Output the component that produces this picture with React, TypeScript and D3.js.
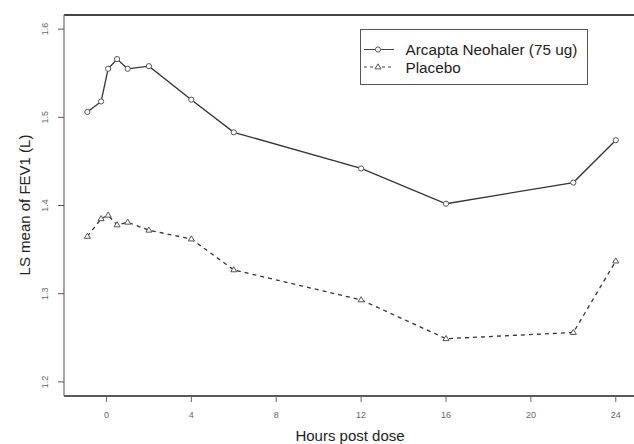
import React from "react";
import * as d3 from "d3";

const hours = [-0.9, -0.25, 0.08, 0.5, 1, 2, 4, 6, 12, 16, 22, 24];
const arcapta = [1.506, 1.518, 1.555, 1.566, 1.555, 1.558, 1.520, 1.483, 1.442, 1.402, 1.426, 1.474];
const placebo = [1.365, 1.385, 1.389, 1.378, 1.381, 1.372, 1.362, 1.327, 1.293, 1.249, 1.256, 1.337];
const xTicks = [0, 4, 8, 12, 16, 20, 24];
const yTicks = [1.2, 1.3, 1.4, 1.5, 1.6];
const seriesNames = ["Arcapta Neohaler (75 ug)", "Placebo"];

const W = 634, H = 444;
const L = 64, R = 637, T = 15, B = 396;
const FONT = "'Liberation Sans', Arial, Helvetica, sans-serif";

export default function App() {
  const x = d3.scaleLinear().domain([-2, 25]).range([L, R]);
  const y = d3.scaleLinear().domain([1.184, 1.616]).range([B, T]);
  const line = d3.line<[number, number]>().x(d => x(d[0])).y(d => y(d[1]));
  const a: [number, number][] = hours.map((h, i) => [h, arcapta[i]]);
  const p: [number, number][] = hours.map((h, i) => [h, placebo[i]]);
  const tri = (cx: number, cy: number, s = 3.2) =>
    `M${cx},${cy - s} L${cx + s * 0.95},${cy + s * 0.6} L${cx - s * 0.95},${cy + s * 0.6} Z`;

  return (
    <svg width={W} height={H} style={{ position: "absolute", left: 0, top: 0, background: "#fff" }} fontFamily={FONT}>
      <rect x={0} y={0} width={W} height={H} fill="#fff" />
      {/* frame */}
      <line x1={L} x2={W} y1={T} y2={T} stroke="#444" strokeWidth={2} />
      <line x1={L} x2={W} y1={B} y2={B} stroke="#222" strokeWidth={1.6} />
      <line x1={L} x2={L} y1={T} y2={B} stroke="#777" strokeWidth={1.3} />
      {/* x axis ticks */}
      {xTicks.map(t => (
        <g key={"x" + t}>
          <line x1={x(t)} x2={x(t)} y1={B} y2={B + 6} stroke="#666" strokeWidth={1} />
          <text x={x(t)} y={418} fontSize={9} fill="#666" textAnchor="middle">{t}</text>
        </g>
      ))}
      {/* y axis ticks */}
      {yTicks.map(t => (
        <g key={"y" + t}>
          <line x1={L - 6} x2={L} y1={y(t)} y2={y(t)} stroke="#555" strokeWidth={1} />
          <text transform={`translate(48,${y(t)}) rotate(-90)`} fontSize={9} fill="#666" textAnchor="middle">{t.toFixed(1)}</text>
        </g>
      ))}
      {/* axis titles */}
      <text x={350} y={441} fontSize={15} fill="#222" textAnchor="middle">Hours post dose</text>
      <text transform={`translate(30,205) rotate(-90)`} fontSize={15} fill="#222" textAnchor="middle">LS mean of FEV1 (L)</text>
      {/* series */}
      <path d={line(a) || ""} fill="none" stroke="#333" strokeWidth={1.3} />
      {a.map((d, i) => (
        <circle key={"a" + i} cx={x(d[0])} cy={y(d[1])} r={2.6} fill="#fff" stroke="#555" strokeWidth={1} />
      ))}
      <path d={line(p) || ""} fill="none" stroke="#333" strokeWidth={1.3} strokeDasharray="4,4" />
      {p.map((d, i) => (
        <path key={"p" + i} d={tri(x(d[0]), y(d[1]))} fill="#fff" stroke="#555" strokeWidth={1} />
      ))}
      {/* legend */}
      <rect x={360.5} y={29.5} width={227} height={55} fill="#fff" stroke="#555" strokeWidth={1} />
      <line x1={364} x2={394} y1={49.5} y2={49.5} stroke="#444" strokeWidth={1} />
      <circle cx={378} cy={49.5} r={2.6} fill="#fff" stroke="#555" strokeWidth={1} />
      <text x={405.5} y={55} fontSize={15.3} fill="#222">{seriesNames[0]}</text>
      <line x1={364} x2={394} y1={67} y2={67} stroke="#444" strokeWidth={1} strokeDasharray="3,3" />
      <path d={tri(378, 67)} fill="#fff" stroke="#555" strokeWidth={1} />
      <text x={405.5} y={72.5} fontSize={15.3} fill="#222">{seriesNames[1]}</text>
    </svg>
  );
}
